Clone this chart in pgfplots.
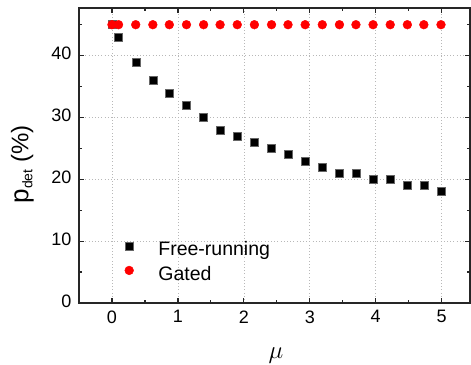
\documentclass[border=0pt]{standalone}
\usepackage{fontspec}
\setmainfont{Liberation Sans}
\usepackage{pgfplots}
\pgfplotsset{compat=1.18}
\begin{document}
\begin{tikzpicture}
\begin{axis}[
  scale only axis,
  width=391pt, height=295pt,
  xmin=-0.5, xmax=5.43,
  ymin=0, ymax=47.7,
  xtick={0,1,2,3,4,5},
  ytick={0,10,20,30,40},
  minor xtick={-0.5,0.5,1.5,2.5,3.5,4.5},
  minor ytick={5,15,25,35,45},
  tick align=inside,
  major tick length=5pt,
  minor tick length=3pt,
  axis line style={line width=1.5pt, black!85},
  every tick/.style={line width=1.2pt, black!85},
  grid=major,
  major grid style={dash pattern=on 0.8pt off 2.4pt, black!28, line width=0.6pt},
  tick label style={font=\fontsize{18}{21}\selectfont},
  xticklabel style={yshift=-4pt},
  yticklabel style={xshift=-4pt, yshift=2pt},
  /pgf/number format/assume math mode=true,
  xlabel={$\mu$},
  xlabel style={font=\fontsize{27}{31}\selectfont, at={(rel axis cs:0.504,0)}, anchor=north, yshift=-45pt, inner sep=0pt},
  ylabel={\fontsize{26}{30}\selectfont p\raisebox{-4pt}{\fontsize{14}{16}\selectfont det}\fontsize{24}{28}\selectfont\ (\%)},
  ylabel style={at={(rel axis cs:0,0.47)}, anchor=south, yshift=45pt, inner sep=0pt},
  legend style={draw=none, fill=none, at={(rel axis cs:0.1125,0.2088)}, anchor=north west,
    inner sep=0pt, outer sep=0pt, nodes={inner sep=0pt},
    font=\fontsize{19.5}{23}\selectfont, row sep=9pt},
  legend cell align=left,
  legend image code/.code={\draw[#1] plot coordinates {(6pt,3.5pt)}; \path (0,0) (35pt,0);},
]
\addplot[only marks, mark=square*, mark size=4pt, draw=black!60, fill=black] coordinates {
(0,45) (0.1,43) (0.36,39) (0.62,36) (0.87,34) (1.13,32) (1.39,30) (1.64,28) (1.90,27)
(2.16,26) (2.42,25) (2.67,24) (2.93,23) (3.19,22) (3.45,21) (3.70,21) (3.96,20)
(4.22,20) (4.48,19) (4.73,19) (4.99,18)};
\addlegendentry{Free-running}
\addplot[only marks, mark=*, mark size=4.4pt, draw=red, fill=red] coordinates {
(0,45) (0.1,45) (0.36,45) (0.62,45) (0.87,45) (1.13,45) (1.39,45) (1.64,45) (1.90,45)
(2.16,45) (2.42,45) (2.67,45) (2.93,45) (3.19,45) (3.45,45) (3.70,45) (3.96,45)
(4.22,45) (4.48,45) (4.73,45) (4.99,45)};
\addlegendentry{Gated}
\end{axis}
\pgfresetboundingbox
\path (current axis.south west) +(-79pt,-61pt);
\path (current axis.north east) +(1pt,8pt);
\end{tikzpicture}
\end{document}
